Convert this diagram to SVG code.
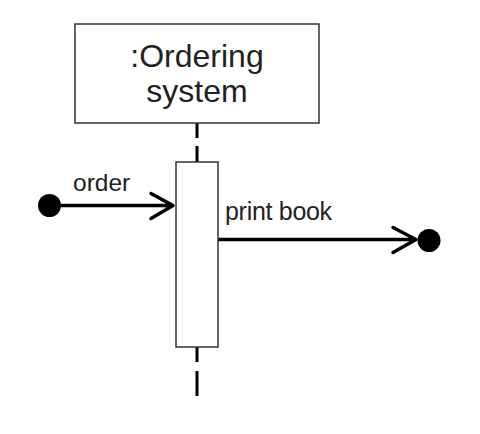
<svg xmlns="http://www.w3.org/2000/svg" width="480" height="434" viewBox="0 0 480 434">
<style>
.box{fill:#fff;stroke:#333;stroke-width:1.5}
.life{fill:none;stroke:#000;stroke-width:3}
.msg{fill:none;stroke:#000;stroke-width:3.5;stroke-linecap:round;stroke-linejoin:round}
.dot{fill:#000}
.t{font-family:"Liberation Sans",Arial,sans-serif;fill:#222}
</style>
<rect width="480" height="434" fill="#fff"/>
<g id="connectors">
<path class="life" d="M197 123V138M197 146V162M197 347V362M197 371V396"/>
<circle class="dot" cx="49.5" cy="205.5" r="11.5"/>
<path class="msg" d="M50 205.5H172M151 193.5L173 205.5L151 218.5"/>
<text class="t" x="73" y="191" font-size="24.5">order</text>
<path class="msg" d="M218 239.5H415M393 227.5L416 239.5L393 252.5"/>
<circle class="dot" cx="429" cy="240.5" r="11.5"/>
<text class="t" x="225" y="220" font-size="25" letter-spacing="-0.3">print book</text>
</g>
<g id="ordering-system">
<rect class="box" x="75" y="24" width="244" height="99"/>
<text class="t" x="197" y="67" font-size="32" text-anchor="middle">:Ordering</text>
<text class="t" x="197" y="102" font-size="32" text-anchor="middle">system</text>
</g>
<g id="activation">
<rect class="box" x="176" y="162" width="42" height="185"/>
</g>
</svg>
